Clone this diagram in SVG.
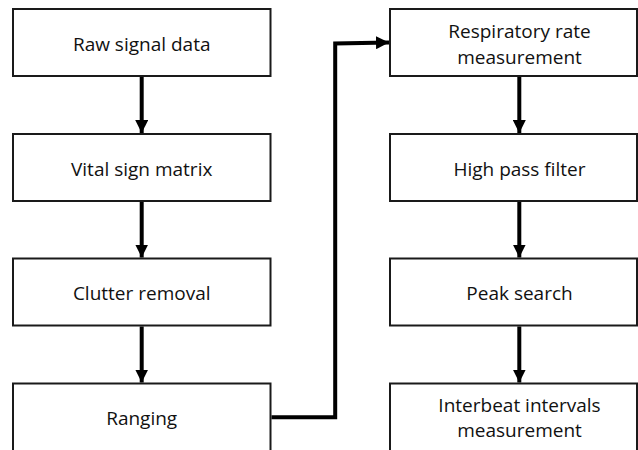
<svg xmlns="http://www.w3.org/2000/svg" width="638" height="450" viewBox="0 0 638 450">
<defs>
<style>
.box{fill:#fff;stroke:#1a1a1a;stroke-width:2}
.lbl{font-family:"Open Sans","Noto Sans",sans-serif;font-size:19px;fill:#111;text-anchor:middle}
.conn{fill:none;stroke:#000;stroke-width:4}
</style>
<marker id="ah" markerUnits="userSpaceOnUse" markerWidth="13" markerHeight="13" refX="13" refY="6.5" orient="auto">
<path d="M0,0 L13,6.5 L0,13 Z" fill="#000"/>
</marker>
</defs>
<rect width="638" height="450" fill="#fff"/>
<g id="n1"><rect class="box" x="13" y="9" width="257.5" height="67"/><text class="lbl" x="141.7" y="50.5">Raw signal data</text></g>
<g id="n2"><rect class="box" x="13" y="134" width="257.5" height="67"/><text class="lbl" x="141.7" y="175.5">Vital sign matrix</text></g>
<g id="n3"><rect class="box" x="13" y="258.5" width="257.5" height="67"/><text class="lbl" x="141.7" y="300">Clutter removal</text></g>
<g id="n4"><rect class="box" x="13" y="383.5" width="257.5" height="80"/><text class="lbl" x="141.7" y="425">Ranging</text></g>
<g id="n5"><rect class="box" x="390" y="9" width="247" height="67"/><text class="lbl" x="519.5" y="37.5">Respiratory rate</text><text class="lbl" x="519.5" y="63.5">measurement</text></g>
<g id="n6"><rect class="box" x="390" y="134" width="247" height="67"/><text class="lbl" x="519.5" y="175.5">High pass filter</text></g>
<g id="n7"><rect class="box" x="390" y="258.5" width="247" height="67"/><text class="lbl" x="519.5" y="300">Peak search</text></g>
<g id="n8"><rect class="box" x="390" y="383.5" width="247" height="80"/><text class="lbl" x="519.5" y="411.5">Interbeat intervals</text><text class="lbl" x="519.5" y="437">measurement</text></g>
<g id="connectors">
<line class="conn" x1="141.7" y1="77" x2="141.7" y2="133" marker-end="url(#ah)"/>
<line class="conn" x1="141.7" y1="202" x2="141.7" y2="257.5" marker-end="url(#ah)"/>
<line class="conn" x1="141.7" y1="326.5" x2="141.7" y2="382.5" marker-end="url(#ah)"/>
<line class="conn" x1="519.3" y1="77" x2="519.3" y2="133" marker-end="url(#ah)"/>
<line class="conn" x1="519.3" y1="202" x2="519.3" y2="257.5" marker-end="url(#ah)"/>
<line class="conn" x1="519.3" y1="326.5" x2="519.3" y2="382.5" marker-end="url(#ah)"/>
<path class="conn" d="M271.5,417.3 L335.2,417.3 L335.2,43.5 L389,42.5" marker-end="url(#ah)" stroke-linejoin="miter"/>
</g>
</svg>
